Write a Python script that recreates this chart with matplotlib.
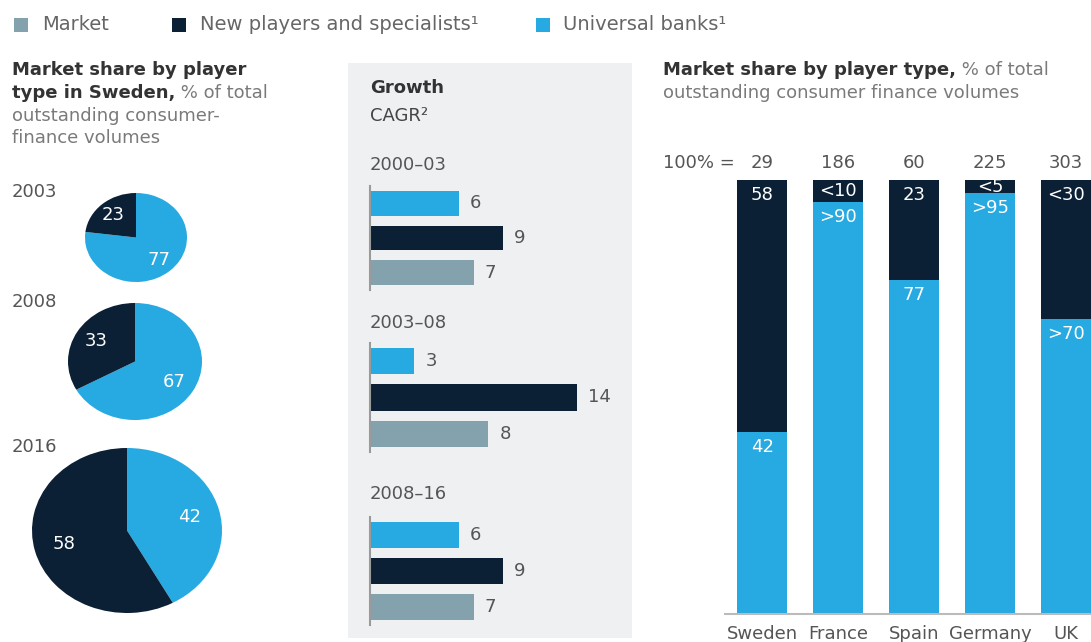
import matplotlib
matplotlib.use("Agg")
import matplotlib.pyplot as plt
from matplotlib.patches import Rectangle
from matplotlib.text import Annotation
import numpy as np

W, H = 1091, 642
plt.rcParams['font.family'] = ['DejaVu Sans']

# ---------------- data ----------------
legend_labels = ["Market", "New players and specialists\u00b9", "Universal banks\u00b9"]

pie_years = ["2003", "2008", "2016"]
pie_universal = [77, 67, 42]
pie_new = [23, 33, 58]

periods = ["2000\u201303", "2003\u201308", "2008\u201316"]
cagr_universal = [6, 3, 6]
cagr_new = [9, 14, 9]
cagr_market = [7, 8, 7]

countries = ["Sweden", "France", "Spain", "Germany", "UK"]
totals = [29, 186, 60, 225, 303]
share_universal = [42, 95, 77, 97, 68]
share_new = [58, 5, 23, 3, 32]
label_universal = ["42", ">90", "77", ">95", ">70"]
label_new = ["58", "<10", "23", "<5", "<30"]

# ---------------- style ----------------
BLUE = "#27a9e1"
NAVY = "#0b1f35"
GRAY = "#84a1ae"
TXT = "#555555"
TITLE = "#333333"
SUB = "#7a7a7a"
FS = 13

fig = plt.figure(figsize=(W / 100, H / 100), dpi=100)


def fx(x):
    return x / W


def fy(y):
    return 1 - y / H


def add_ax(x0, y0, x1, y1):
    ax = fig.add_axes([fx(x0), fy(y1), (x1 - x0) / W, (y1 - y0) / H])
    ax.patch.set_visible(False)
    return ax


def ftext(x, y, s, **kw):
    kw.setdefault("fontsize", FS)
    kw.setdefault("va", "center")
    kw.setdefault("ha", "left")
    return fig.text(fx(x), fy(y), s, **kw)


def mixed(x, y, bold, rest):
    t = ftext(x, y, bold, fontweight="bold", color=TITLE)
    a = Annotation(rest, xy=(1, 0.5), xycoords=t, va="center", ha="left",
                   fontsize=FS, color=SUB, annotation_clip=False)
    fig.add_artist(a)
    return t, a


# middle panel background
fig.add_artist(Rectangle((fx(348), fy(638)), (632 - 348) / W, (638 - 63) / H,
                         transform=fig.transFigure, facecolor="#eff0f2",
                         edgecolor="none", zorder=0))

# ---------------- legend ----------------
leg_pos = [(14, 42), (172, 200), (536, 563)]
leg_cols = [GRAY, NAVY, BLUE]
for (sx, tx), c, lab in zip(leg_pos, leg_cols, legend_labels):
    fig.add_artist(Rectangle((fx(sx), fy(32)), 14 / W, 14 / H,
                             transform=fig.transFigure, facecolor=c,
                             edgecolor="none"))
    ftext(tx, 25, lab, color="#666666", fontsize=14)

# ---------------- left: pies ----------------
ftext(12, 70, "Market share by player", fontweight="bold", color=TITLE)
mixed(12, 93, "type in Sweden,", " % of total")
ftext(12, 116, "outstanding consumer-", color=SUB)
ftext(12, 138, "finance volumes", color=SUB)

pie_boxes = [(85, 193, 187, 282), (68, 303, 202, 420), (32, 448, 222, 613)]
year_y = [192, 302, 447]
for yr, u, n, box, yy in zip(pie_years, pie_universal, pie_new, pie_boxes, year_y):
    ftext(12, yy, yr, color=TXT)
    ax = add_ax(*box)
    ax.pie([u, n], colors=[BLUE, NAVY], startangle=90, counterclock=False,
           radius=1, autopct=lambda p: f"{p:.0f}", pctdistance=0.68,
           textprops=dict(color="white", fontsize=FS),
           wedgeprops=dict(linewidth=0))
    ax.set_aspect("auto")
    ax.set_xlim(-1, 1)
    ax.set_ylim(-1, 1)
    ax.axis("off")

# ---------------- middle: CAGR bars ----------------
ftext(370, 88, "Growth", fontweight="bold", color=TITLE)
ftext(370, 116, "CAGR\u00b2", color="#444444")

group_boxes = [(186, 290), (343, 452), (517, 625)]
period_y = [165, 323, 494]
PX_PER_UNIT = 14.8
for i, (per, (top, bot), py) in enumerate(zip(periods, group_boxes, period_y)):
    ftext(370, py, per, color=TXT)
    ax = add_ax(370, top, 632, bot)
    vals = [cagr_universal[i], cagr_new[i], cagr_market[i]]
    ax.barh([0, 1, 2], vals, height=0.72, color=[BLUE, NAVY, GRAY])
    ax.set_ylim(2.5, -0.5)
    ax.set_xlim(0, (632 - 370) / PX_PER_UNIT)
    for s in ["top", "right", "bottom"]:
        ax.spines[s].set_visible(False)
    ax.spines["left"].set_color("#9a9a9a")
    ax.spines["left"].set_linewidth(1.5)
    ax.set_xticks([])
    ax.set_yticks([])
    for j, v in enumerate(vals):
        ax.annotate(str(v), xy=(v, j), xytext=(11, 0), textcoords="offset pixels",
                    ha="left", va="center", fontsize=FS, color=TXT)

# ---------------- right: stacked bars ----------------
mixed(663, 70, "Market share by player type,", " % of total")
ftext(663, 93, "outstanding consumer finance volumes", color=SUB)
ftext(663, 163, "100% =", color=TXT)

ax = add_ax(725, 180, 1091, 614)
x = np.arange(len(countries))
ax.bar(x, share_universal, width=0.66, color=BLUE)
ax.bar(x, share_new, bottom=share_universal, width=0.66, color=NAVY)
ax.set_xlim(-0.49, 4.33)
ax.set_ylim(0, 100)
for s in ["top", "right", "left"]:
    ax.spines[s].set_visible(False)
ax.spines["bottom"].set_color("#bbbbbb")
ax.spines["bottom"].set_linewidth(1.5)
ax.set_yticks([])
ax.set_xticks(x)
ax.set_xticklabels(countries, fontsize=FS, color=TXT)
ax.tick_params(axis="x", length=0, pad=8)
for i in range(len(countries)):
    ax.annotate(str(totals[i]), xy=(i, 100), xytext=(0, 17), textcoords="offset pixels",
                ha="center", va="center", fontsize=FS, color=TXT, annotation_clip=False)
    ax.text(i, 100 - min(3.5, share_new[i] / 2), label_new[i], ha="center", va="center",
            fontsize=FS, color="white")
    ax.text(i, share_universal[i] - 3.5, label_universal[i], ha="center", va="center",
            fontsize=FS, color="white")

fig.savefig("out.png", dpi=100)
